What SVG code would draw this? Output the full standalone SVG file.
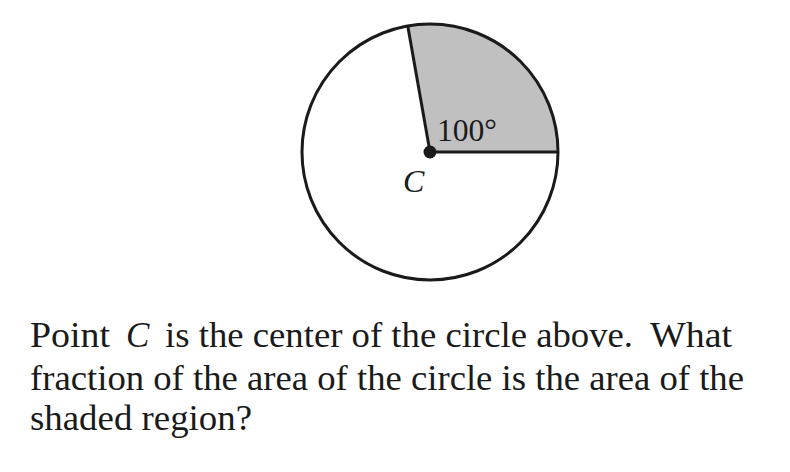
<svg xmlns="http://www.w3.org/2000/svg" width="790" height="472" viewBox="0 0 790 472">
<style>
.ln{fill:none;stroke:#1a1a1a;stroke-width:3;stroke-linecap:butt}
.t{font-family:"Liberation Serif","Times New Roman",serif;fill:#1a1a1a}
.q{font-size:35px}
</style>
<rect width="790" height="472" fill="#ffffff"/>
<g id="figure">
<path d="M430,152 L558,152 A128,128 0 0 0 407.77,25.94 Z" fill="#c0c0c0" stroke="none"/>
<circle cx="430" cy="152" r="128" class="ln"/>
<line x1="430" y1="152" x2="558" y2="152" class="ln"/>
<line x1="430" y1="152" x2="407.77" y2="25.94" class="ln"/>
<circle cx="430" cy="152" r="6.5" fill="#1a1a1a"/>
<text class="t" x="437" y="141" font-size="32" textLength="60" lengthAdjust="spacingAndGlyphs">100°</text>
<text class="t" x="403" y="191.5" font-size="32" font-style="italic">C</text>
</g>
<g id="question">
<text class="t q" x="30" y="347" textLength="80" lengthAdjust="spacingAndGlyphs">Point</text>
<text class="t q" x="126" y="347" font-style="italic">C</text>
<text class="t q" x="165" y="347" textLength="468" lengthAdjust="spacingAndGlyphs">is the center of the circle above.</text>
<text class="t q" x="650" y="347" textLength="82" lengthAdjust="spacingAndGlyphs">What</text>
<text class="t q" x="30" y="390" textLength="714" lengthAdjust="spacingAndGlyphs">fraction of the area of the circle is the area of the</text>
<text class="t q" x="30" y="430" textLength="222" lengthAdjust="spacingAndGlyphs">shaded region?</text>
</g>
</svg>
